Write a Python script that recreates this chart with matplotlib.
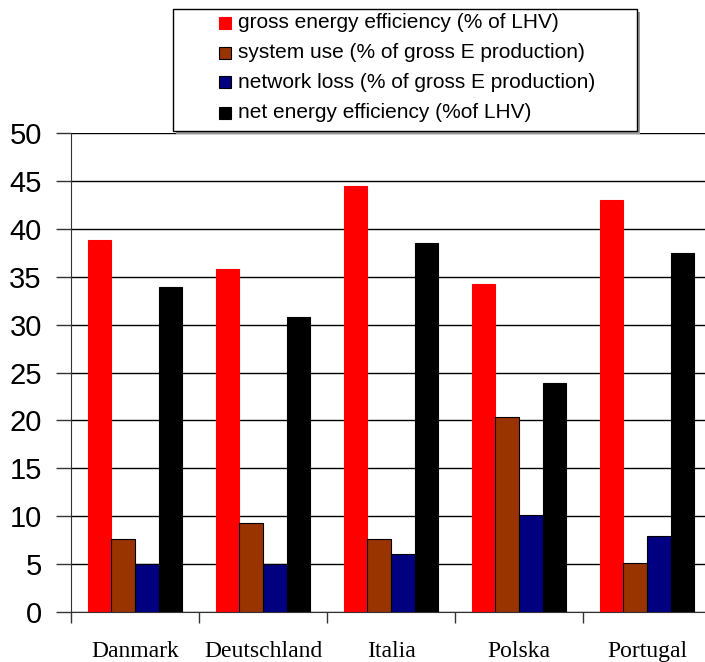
import matplotlib
matplotlib.use("Agg")
import matplotlib.pyplot as plt
from matplotlib.patches import Rectangle
import numpy as np

countries = ["Danmark", "Deutschland", "Italia", "Polska", "Portugal"]
series_names = [
    "gross energy efficiency (% of LHV)",
    "system use (% of gross E production)",
    "network loss (% of gross E production)",
    "net energy efficiency (%of LHV)",
]
gross_eff = [38.85, 35.8, 44.5, 34.3, 43.0]
system_use = [7.55, 9.25, 7.55, 20.4, 5.05]
network_loss = [4.95, 4.95, 6.05, 10.1, 7.9]
net_eff = [33.95, 30.75, 38.5, 23.9, 37.5]
yticks = [0, 5, 10, 15, 20, 25, 30, 35, 40, 45, 50]

colors = ["#ff0000", "#993300", "#000080", "#000000"]

W, H = 705, 662
fig = plt.figure(figsize=(W / 100, H / 100), dpi=100)
ax = fig.add_axes([71 / W, 1 - 611.7 / H, 640 / W, (611.7 - 133.3) / H])

data = [gross_eff, system_use, network_loss, net_eff]
x = np.arange(len(countries))
bw = 0.184
for i, (vals, c) in enumerate(zip(data, colors)):
    ec = c if i == 0 else "black"
    ax.bar(x + (i - 1.5) * bw, vals, bw, color=c, edgecolor=ec,
           linewidth=0.8, zorder=3)

ax.set_xlim(-0.5, len(countries) - 0.5)
ax.set_ylim(0, 50)
ax.set_yticks(yticks)
ax.set_yticklabels([str(v) for v in yticks], fontsize=21, family="Liberation Sans")
ax.yaxis.grid(True, color="black", linewidth=1.0, zorder=0)
ax.set_axisbelow(True)

ax.set_xticks(np.arange(len(countries) + 1) - 0.5)
ax.set_xticklabels([])
ax.set_xticks(x, minor=True)
ax.set_xticklabels(countries, minor=True, fontsize=17, family="Liberation Serif")
ax.tick_params(axis="x", which="major", length=8, width=1, color="#333333")
ax.tick_params(axis="x", which="minor", length=0, pad=21)
ax.tick_params(axis="y", length=11, width=1, color="#333333", pad=10)

for s in ["top", "right"]:
    ax.spines[s].set_visible(False)
ax.spines["left"].set_color("#333333")
ax.spines["bottom"].set_color("#333333")

# legend box with shadow
bx0, by0, bx1, by1 = 173, 9, 637, 131
fig.patches.append(Rectangle(((bx0 + 3) / W, 1 - (by1 + 3) / H), (bx1 - bx0) / W,
                             (by1 - by0) / H, transform=fig.transFigure,
                             facecolor="#999999", edgecolor="none", zorder=5))
fig.patches.append(Rectangle((bx0 / W, 1 - by1 / H), (bx1 - bx0) / W,
                             (by1 - by0) / H, transform=fig.transFigure,
                             facecolor="white", edgecolor="black", linewidth=1,
                             zorder=6))
rows = [23, 52.5, 82, 112.5]
for name, c, yy in zip(series_names, colors, rows):
    fig.patches.append(Rectangle((219 / W, 1 - (yy + 6) / H), 12 / W, 12 / H,
                                 transform=fig.transFigure, facecolor=c,
                                 edgecolor="black" if c != "#ff0000" else c,
                                 linewidth=0.8, zorder=7))
    fig.text(238 / W, 1 - yy / H, name, fontsize=15, family="Liberation Sans",
             va="center", ha="left", zorder=8)

fig.savefig("out.png", dpi=100)
